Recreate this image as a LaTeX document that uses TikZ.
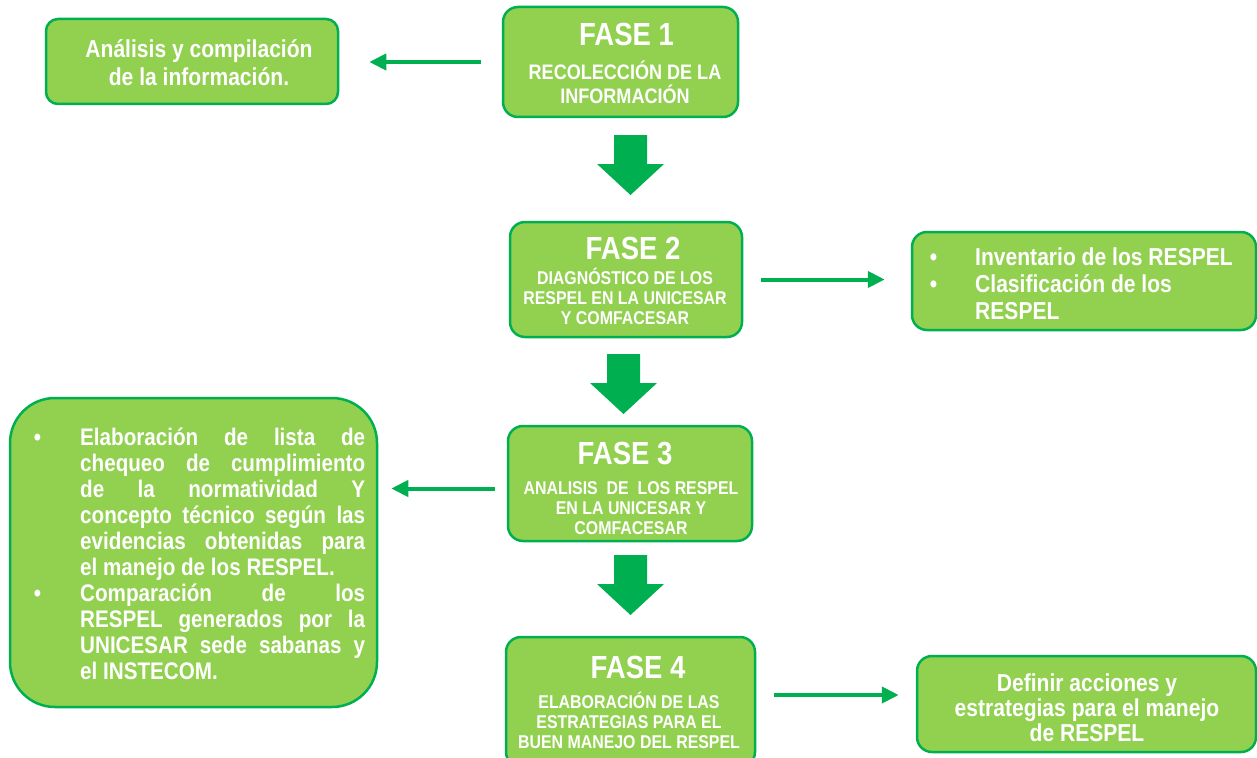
\documentclass[tikz,border=0pt]{standalone}
\usepackage{fontspec}
\setmainfont{Liberation Sans}[FakeStretch=0.86]
\usetikzlibrary{arrows.meta,positioning,calc}
\definecolor{leaf}{RGB}{146,208,80}
\definecolor{grass}{RGB}{0,176,80}
% bullet list with a given left margin
\newenvironment{dotlist}[1]{\begin{list}{\textbullet}{\setlength\leftmargin{#1}%
  \setlength\labelwidth{12pt}\setlength\labelsep{\dimexpr#1-12pt\relax}\setlength\rightmargin{0pt}%
  \setlength\topsep{0pt}\setlength\partopsep{0pt}\setlength\itemsep{0pt}\setlength\parsep{0pt}}}%
  {\end{list}}
\tikzset{
  >={Triangle[length=17pt,width=16pt]},
  box/.style={draw=grass,fill=leaf,line width=2.5pt,rounded corners=#1},
  box/.default=15pt,
  flow/.style={->,line width=4pt,draw=grass},
  phase title/.style={text=white,font=\bfseries\fontsize{32}{36}\selectfont,inner sep=0pt},
  phase text/.style={text=white,font=\bfseries\fontsize{18.5}{20}\selectfont,align=center,inner sep=0pt},
  note/.style={text=white,font=\bfseries\fontsize{24.5}{#1}\selectfont,align=center,inner sep=0pt},
  note/.default=28,
  list text/.style={text=white,font=\bfseries\fontsize{24}{#1}\selectfont,inner sep=0pt,anchor=base west},
  % block arrow between the phases
  pics/block arrow/.style={code={
    \fill[grass] (-16.5,0) -- (16.5,0) -- (16.5,29) -- (33.5,29) -- (0,60) -- (-33.5,29) -- (-16.5,29) -- cycle;
  }},
}
\begin{document}
\begin{tikzpicture}[x=1pt,y=-1pt]
  \useasboundingbox (0,0) rectangle (1257,757);
  % phases
  \node[box,minimum width=235pt,minimum height=110pt] (f1) at (620.5,62) {};
  \node[box,minimum width=232pt,minimum height=115pt] (f2) at (626,279.5) {};
  \node[box,minimum width=244pt,minimum height=115pt] (f3) at (630,483.5) {};
  \node[box,minimum width=249pt,minimum height=130pt] (f4) at (630.5,702) {};
  \node[phase title] (t1) at (626.5,34) {FASE 1};
  \node[phase title] (t2) at (633,248) {FASE 2};
  \node[phase title] (t3) at (625,454) {FASE 3};
  \node[phase title] (t4) at (638,667) {FASE 4};
  \node[phase text,font=\bfseries\fontsize{21}{24}\selectfont] (s1) at (625,82) {RECOLECCIÓN DE LA\\INFORMACIÓN};
  \node[phase text] (s2) at (625,296) {DIAGNÓSTICO DE LOS\\RESPEL EN LA UNICESAR\\Y COMFACESAR};
  \node[phase text] (s3) at (631,508.5) {ANALISIS~ DE~ LOS RESPEL\\EN LA UNICESAR Y\\COMFACESAR};
  \node[phase text] (s4) at (629,720.5) {ELABORACIÓN DE LAS\\ESTRATEGIAS PARA EL\\BUEN MANEJO DEL RESPEL};
  \pic at (630.5,135) {block arrow};
  \pic at (623.5,354) {block arrow};
  \pic at (630.5,555) {block arrow};
  % results
  \node[box=12pt,minimum width=292pt,minimum height=85pt] (info) at (192,61.5) {};
  \node[note] (info text) at (199,63) {Análisis y compilación\\de la información.};
  \node[box,minimum width=344pt,minimum height=98pt] (inv) at (1084,281) {};
  \node[list text=27,font=\bfseries\fontsize{24.5}{27}\selectfont] (inv text) at (925,265) {%
    \begin{minipage}[t]{320pt}\begin{dotlist}{50pt}
    \item Inventario de los RESPEL
    \item Clasificación de los\\RESPEL
    \end{dotlist}\end{minipage}};
  \node[box=45pt,minimum width=367pt,minimum height=309pt] (check) at (193.5,552.5) {};
  \node[list text=26] (check text) at (29,445.5) {%
    \begin{minipage}[t]{336pt}\begin{dotlist}{51pt}
    \item Elaboración de lista de\linebreak chequeo de cumplimiento\linebreak de la normatividad Y\linebreak
      concepto técnico según las\linebreak evidencias obtenidas para\linebreak el manejo de los RESPEL.
    \item Comparación de los\linebreak RESPEL generados por la\linebreak UNICESAR sede sabanas y\linebreak el INSTECOM.
    \end{dotlist}\end{minipage}};
  \node[box,minimum width=339pt,minimum height=96pt] (def) at (1086.5,704) {};
  \node[note=25] (def text) at (1087,708) {Definir acciones y\\estrategias para el manejo\\de RESPEL};
  % connectors
  \draw[flow,shorten <=21pt,shorten >=30pt] (f1.west) -- (f1.west -| info.east);
  \draw[flow,shorten <=18pt,shorten >=26pt] (f2.east) -- (f2.east -| inv.west);
  \draw[flow,shorten <=12pt,shorten >=13pt] ([yshift=-5pt]f3.west) -- ([yshift=-5pt]f3.west -| check.east);
  \draw[flow,shorten <=18pt,shorten >=17pt] ([yshift=7pt]f4.east) -- ([yshift=7pt]f4.east -| def.west);
\end{tikzpicture}
\end{document}
